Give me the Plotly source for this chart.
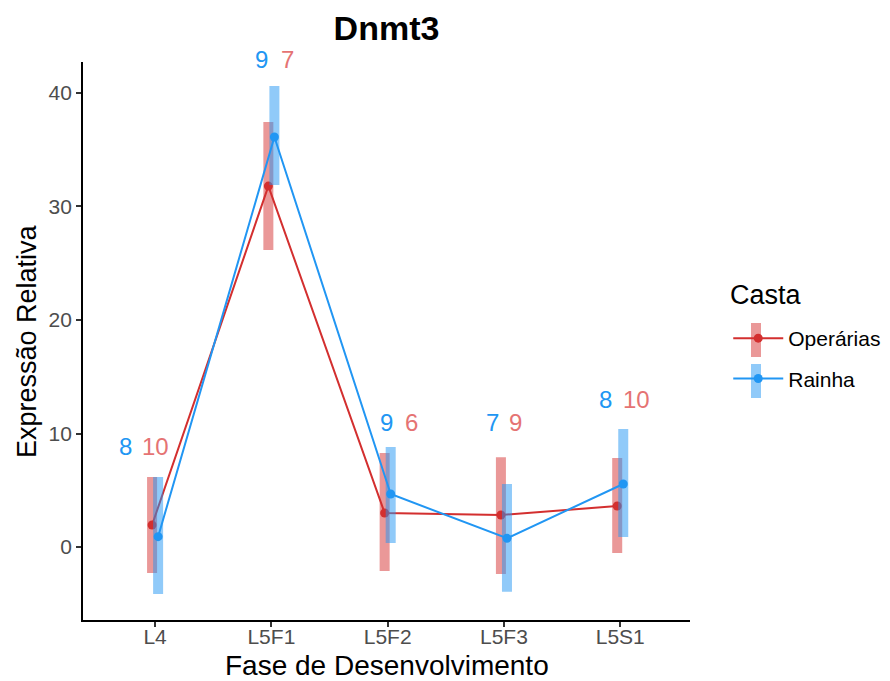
import plotly.graph_objects as go

# ---------------- data ----------------
categories = ["L4", "L5F1", "L5F2", "L5F3", "L5S1"]
series_names = ["Operárias", "Rainha"]

operarias_mean = [1.94, 31.80, 3.00, 2.82, 3.61]
operarias_lower = [-2.29, 26.17, -2.11, -2.38, -0.53]
operarias_upper = [6.17, 37.44, 8.28, 7.90, 7.84]
operarias_n = [10, 7, 6, 9, 10]

rainha_mean = [0.91, 36.12, 4.67, 0.77, 5.55]
rainha_lower = [-4.14, 31.89, 0.35, -3.94, 0.88]
rainha_upper = [6.17, 40.62, 8.81, 5.55, 10.40]
rainha_n = [8, 9, 9, 7, 8]

y_ticks = [0, 10, 20, 30, 40]

# ---------------- style / layout constants ----------------
RED = "#D32F2F"
RED_BAR = "rgba(214,50,50,0.5)"
RED_TXT = "#E57373"
BLUE = "#2196F3"
BLUE_BAR = "rgba(33,150,243,0.5)"
BLUE_TXT = "#2196F3"
FONT = "Liberation Sans, Arial, sans-serif"
DODGE = 0.026
# label placement offsets (px) relative to category centre / top of bars
blue_label_dx = [-30, -10, -1, -11, -15]
red_label_dx = [0, 16, 24, 11.5, 16]
label_dy = [30, 26, 25, 35, 29]

# the page body adds an 8px margin, so the figure is 8px smaller each way
W, H = 882, 673
ML, MR, MT, MB = 75, 200, 54, 61
PW, PH = W - ML - MR, H - MT - MB

def px_x(page_x):
    return (page_x - 8 - ML) / PW

def px_y(page_y):
    return (H - MB - (page_y - 8)) / PH

x_idx = list(range(1, len(categories) + 1))

fig = go.Figure()

def add_series(name, mean, lower, upper, color, bar_color, offset, group):
    xs = [i + offset for i in x_idx]
    fig.add_trace(go.Scatter(
        x=xs, y=mean, name=name, mode="lines+markers",
        legendgroup=group,
        line=dict(color=color, width=2),
        marker=dict(color=color, size=9),
        error_y=dict(
            type="data", symmetric=False,
            array=[u - m for u, m in zip(upper, mean)],
            arrayminus=[m - l for m, l in zip(mean, lower)],
            color=bar_color, thickness=10, width=0,
        ),
    ))

add_series(series_names[0], operarias_mean, operarias_lower, operarias_upper,
           RED, RED_BAR, -DODGE, "a")
add_series(series_names[1], rainha_mean, rainha_lower, rainha_upper,
           BLUE, BLUE_BAR, DODGE, "b")

# n labels
for i, cat_x in enumerate(x_idx):
    top = max(operarias_upper[i], rainha_upper[i])
    fig.add_annotation(x=cat_x, y=top, text=str(rainha_n[i]), showarrow=False,
                       xshift=blue_label_dx[i], yshift=label_dy[i],
                       font=dict(family=FONT, size=24, color=BLUE_TXT))
    fig.add_annotation(x=cat_x, y=top, text=str(operarias_n[i]), showarrow=False,
                       xshift=red_label_dx[i], yshift=label_dy[i],
                       font=dict(family=FONT, size=24, color=RED_TXT))

# axis titles and legend title
fig.add_annotation(x=0.5, y=0, xref="paper", yref="paper", yshift=-45,
                   text="Fase de Desenvolvimento", showarrow=False,
                   xanchor="center", yanchor="middle",
                   font=dict(family=FONT, size=28, color="black"))
fig.add_annotation(x=0, y=0.5, xref="paper", yref="paper", xshift=-56,
                   text="Expressão Relativa", showarrow=False, textangle=-90,
                   xanchor="center", yanchor="middle",
                   font=dict(family=FONT, size=27, color="black"))
fig.add_annotation(x=px_x(728), y=px_y(295), xref="paper", yref="paper",
                   text="Casta", showarrow=False, xanchor="left", yanchor="middle",
                   font=dict(family=FONT, size=27, color="black"))

# legend key range bars (ggplot-style key)
for (y0, y1), col in [((323, 357), RED_BAR), ((364, 398), BLUE_BAR)]:
    fig.add_shape(type="rect", xref="paper", yref="paper",
                  x0=px_x(751), x1=px_x(761), y0=px_y(y1), y1=px_y(y0),
                  fillcolor=col, line=dict(width=0), layer="below")

fig.update_layout(
    width=W, height=H,
    margin=dict(l=ML, r=MR, t=MT, b=MB, autoexpand=False),
    paper_bgcolor="white", plot_bgcolor="white",
    font=dict(family=FONT),
    title=dict(text="<b>Dnmt3</b>", x=(ML + PW / 2) / W, xanchor="center",
               y=1 - 20 / H, yanchor="middle", yref="container",
               font=dict(family=FONT, size=34, color="black")),
    showlegend=True,
    legend=dict(
        font=dict(family=FONT, size=21, color="black"),
        x=1.063, xanchor="left", y=(H - MB - 310) / PH, yanchor="top",
        itemwidth=50,
        tracegroupgap=10, bgcolor="rgba(0,0,0,0)",
    ),
    xaxis=dict(
        range=[0.38, 5.6], tickmode="array", tickvals=x_idx, ticktext=categories,
        automargin=False,
        showgrid=False, zeroline=False, showline=True, linecolor="black", linewidth=1.8,
        ticks="outside", ticklen=5, tickcolor="#333333", tickwidth=1.5,
        ticklabelstandoff=-8,
        tickfont=dict(family=FONT, size=21, color="#4D4D4D"),
    ),
    yaxis=dict(
        range=[-6.43, 42.73], tickmode="array", tickvals=y_ticks,
        automargin=False,
        showgrid=False, zeroline=False, showline=True, linecolor="black", linewidth=1.8,
        ticks="outside", ticklen=5, tickcolor="#333333", tickwidth=1.5,
        tickfont=dict(family=FONT, size=21, color="#4D4D4D"),
    ),
)

fig.write_html("out.html")
